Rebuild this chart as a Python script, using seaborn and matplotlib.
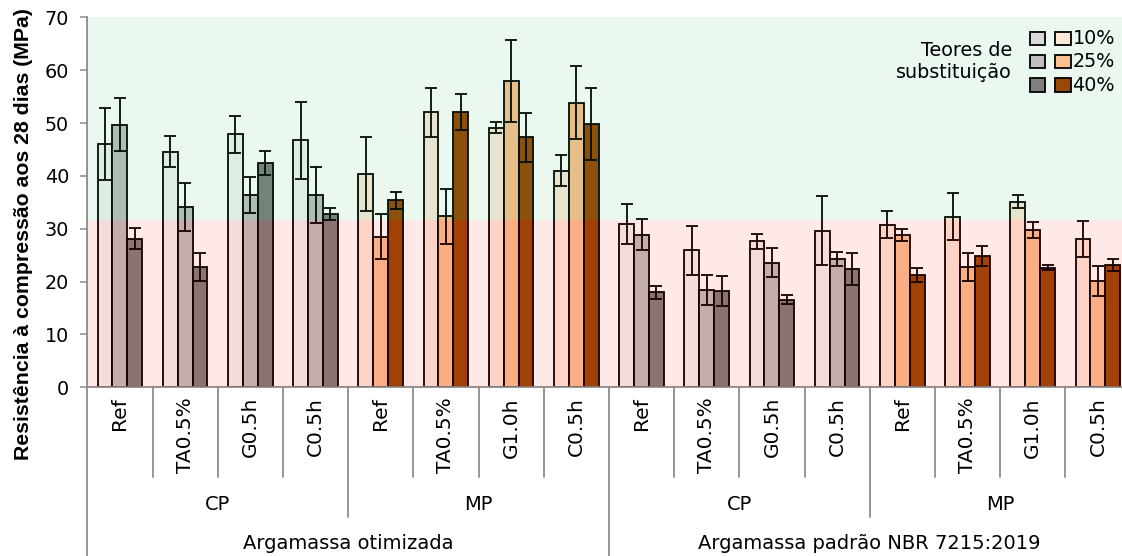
import numpy as np
import pandas as pd
import matplotlib
matplotlib.use("Agg")
import matplotlib.pyplot as plt
import seaborn as sns
from matplotlib.patches import Rectangle
from matplotlib.lines import Line2D
from matplotlib.transforms import blended_transform_factory

# ---------------- data ----------------
sample_types = ["Ref", "TA0.5%", "G0.5h", "C0.5h", "Ref", "TA0.5%", "G1.0h", "C0.5h",
                "Ref", "TA0.5%", "G0.5h", "C0.5h", "Ref", "TA0.5%", "G1.0h", "C0.5h"]
families = ["CP"] * 4 + ["MP"] * 4 + ["CP"] * 4 + ["MP"] * 4
mortars = ["Argamassa otimizada"] * 8 + ["Argamassa padrão NBR 7215:2019"] * 8
teores = ["10%", "25%", "40%"]

values_10 = [46.0, 44.6, 47.9, 46.7, 40.4, 52.0, 49.1, 41.0, 30.9, 25.9, 27.6, 29.6, 30.8, 32.3, 35.1, 28.1]
values_25 = [49.7, 34.1, 36.4, 36.4, 28.5, 32.4, 58.0, 53.8, 28.9, 18.4, 23.6, 24.3, 28.8, 22.8, 29.8, 20.1]
values_40 = [28.1, 22.8, 42.5, 32.8, 35.4, 52.1, 47.3, 49.8, 18.0, 18.2, 16.6, 22.4, 21.2, 24.8, 22.6, 23.1]
err_10 = [6.8, 3.0, 3.5, 7.2, 7.0, 4.6, 1.0, 2.9, 3.7, 4.6, 1.4, 6.5, 2.6, 4.4, 1.2, 3.4]
err_25 = [5.0, 4.6, 3.4, 5.3, 4.2, 5.2, 7.8, 6.9, 2.9, 2.9, 2.7, 1.3, 1.2, 2.7, 1.5, 2.9]
err_40 = [2.0, 2.6, 2.3, 1.2, 1.6, 3.4, 4.6, 6.8, 1.2, 2.8, 0.8, 3.1, 1.3, 1.9, 0.5, 1.1]
limit_value = 31.7

y_label = "Resistência à compressão aos 28 dias (MPa)"
legend_title = "Teores de\nsubstituição"

bar_colors = {"CP": ["#F2F2F2", "#BFBFBF", "#7F7F7F"],
              "MP": ["#FDE9D9", "#FAC090", "#984807"]}
legend_colors = {"CP": ["#D9D9D9", "#BFBFBF", "#7F7F7F"],
                 "MP": ["#FDE9D9", "#FAC090", "#984807"]}

# ---------------- table ----------------
keys = [f"{m}|{f}|{s}|{i}" for i, (m, f, s) in enumerate(zip(mortars, families, sample_types))]
vals = [values_10, values_25, values_40]
errs = [err_10, err_25, err_40]
rows = []
for ti, t in enumerate(teores):
    for ci, k in enumerate(keys):
        rows.append(dict(key=k, fam=families[ci], teor=t, value=vals[ti][ci], err=errs[ti][ci]))
df = pd.DataFrame(rows)

# ---------------- figure ----------------
sns.set_style("white")
plt.rcParams["font.family"] = ["DejaVu Sans"]
plt.rcParams["text.color"] = "black"
plt.rcParams["axes.labelcolor"] = "black"
plt.rcParams["xtick.color"] = "black"
plt.rcParams["ytick.color"] = "black"
W, H = 1122, 556
fig = plt.figure(figsize=(W / 100, H / 100), dpi=100)
ax_left_px, ax_top_px, ax_bottom_px = 87.3, 17.3, 387.3
group_px = 65.2
ax = fig.add_axes([ax_left_px / W, 1 - ax_bottom_px / H, 1 - ax_left_px / W,
                   (ax_bottom_px - ax_top_px) / H])

for fam in ["CP", "MP"]:
    sns.barplot(data=df[df.fam == fam], x="key", y="value", hue="teor",
                order=keys, hue_order=teores, palette=bar_colors[fam],
                width=0.684, saturation=1, edgecolor="black", linewidth=1.3,
                errorbar=None, legend=False, ax=ax, zorder=2)

# error bars from bar positions
ex, ey, ee = [], [], []
for bar in list(ax.patches):
    w = bar.get_width()
    cx = bar.get_x() + w / 2
    ci = int(round(cx))
    hi = int(round((cx - ci) / w)) + 1
    ex.append(cx)
    ey.append(bar.get_height())
    ee.append(errs[hi][ci])
ax.errorbar(ex, ey, yerr=ee, fmt="none", ecolor="black", elinewidth=1.3,
            capsize=4.5, capthick=1.3, zorder=4)

# coloured bands over bars
ax.axhspan(0, limit_value, facecolor=(1.0, 0.0, 0.0), alpha=0.09, lw=0, zorder=5)
ax.axhspan(limit_value, 70, facecolor=(0.0, 0.667, 0.294), alpha=0.082, lw=0, zorder=5)

ax.set_ylim(0, 70)
ax.set_xlim(-0.5, -0.5 + (W - ax_left_px) / group_px)
ax.set_yticks(range(0, 71, 10))
ax.set_xticks(range(len(keys)))
ax.set_xticklabels(sample_types, rotation=90, fontsize=14.5)
ax.tick_params(axis="x", length=0, pad=7, labelcolor="black")
ax.tick_params(axis="y", direction="out", length=5, width=1.1, color="#8c8c8c",
               labelcolor="black", labelsize=13.8, pad=8.2, left=True)
ax.set_xlabel("")
ax.set_ylabel(y_label, fontsize=15.3, fontweight="bold",
              fontfamily=["Liberation Sans", "DejaVu Sans"])
ax.yaxis.set_label_coords(-0.0525, 0.413)

for s in ["top", "right"]:
    ax.spines[s].set_visible(False)
for s in ["left", "bottom"]:
    ax.spines[s].set_color("#8c8c8c")
    ax.spines[s].set_linewidth(1.3)

# hierarchical category separators
trans = blended_transform_factory(ax.transData, ax.transAxes)
lvl1, lvl2, lvl3 = -0.243, -0.351, -0.5
for k in range(len(keys) + 1):
    x = k - 0.5
    if k % 8 == 0:
        d = lvl3
    elif k % 4 == 0:
        d = lvl2
    else:
        d = lvl1
    ax.add_line(Line2D([x, x], [0, d], transform=trans, clip_on=False,
                       color="#8c8c8c", lw=1.3))
for start in range(0, len(keys), 4):
    ax.text(start + 1.5, -0.318, families[start], transform=trans, ha="center",
            va="center", fontsize=14)
for start in range(0, len(keys), 8):
    ax.text(start + 3.5, -0.421, mortars[start], transform=trans, ha="center",
            va="center", fontsize=14)

# legend (manual)
def fig_rect(x, y, w, h, color):
    fig.add_artist(Rectangle((x / W, 1 - (y + h) / H), w / W, h / H,
                             transform=fig.transFigure, facecolor=color,
                             edgecolor="black", lw=1.3, zorder=10))

row_tops = [31.7, 55.0, 78.3]
for i, t in enumerate(teores):
    fig_rect(1030, row_tops[i], 15, 13.3, legend_colors["CP"][i])
    fig_rect(1055, row_tops[i], 15.7, 13.3, legend_colors["MP"][i])
    fig.text(1072.5 / W, 1 - (row_tops[i] + 6.9) / H, t, ha="left", va="center",
             fontsize=13.8)
fig.text(1012 / W, 1 - 61.5 / H, legend_title, ha="right", va="center",
         multialignment="right", fontsize=13.8, linespacing=1.25)

fig.savefig("out.png", dpi=100)
